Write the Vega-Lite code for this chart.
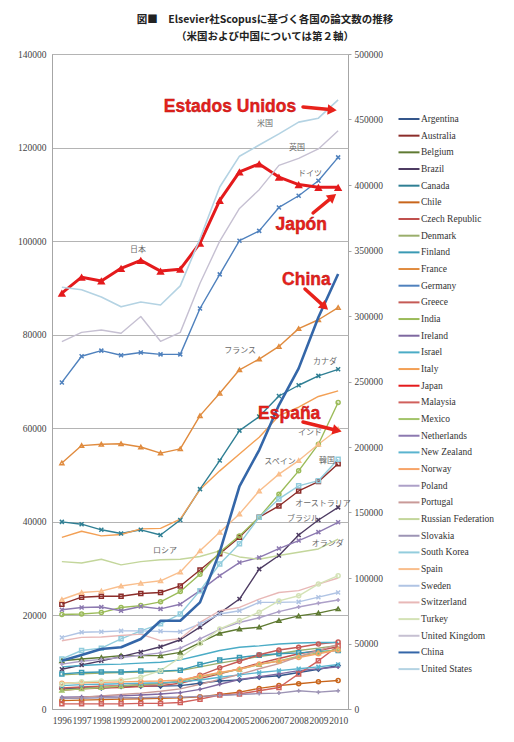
{
"$schema": "https://vega.github.io/schema/vega-lite/v6.json",
"width": 296,
"height": 655,
"autosize": {"type": "pad"},
"padding": {"left": 12, "top": 14, "right": 4, "bottom": 4},
"background": "white",
"title": {"text": ["図■　Elsevier社Scopusに基づく各国の論文数の推移", "（米国および中国については第２軸）"], "font": "Noto Sans CJK JP", "fontSize": 10.5, "fontWeight": "bold", "color": "#222222", "anchor": "middle", "dx": 65, "offset": 7, "lineHeight": 17},
"config": {
  "view": {"stroke": "#a6a6a6", "strokeWidth": 1},
  "axis": {"labelFont": "Liberation Serif", "labelFontSize": 9.5, "labelColor": "#444444", "domainColor": "#a6a6a6", "tickColor": "#a6a6a6", "gridColor": "#b4b4b4", "tickSize": 3},
  "legend": {"symbolLimit": 40},
  "range": {"category": ["#34568B","#8C2D2A","#5F7A32","#4D3B62","#2F7F94","#C8651B","#C0504D","#9AAE6B","#3A9AB4","#E08B3E","#4F81BD","#C55A55","#9BBB59","#7E68A0","#4BACC6","#F3A055","#E41A1C","#D0605C","#A3C46A","#8C79B0","#5AB4CF","#F7A468","#ADA0C8","#C99A98","#C3D69B","#9D94B5","#93CDDD","#F9BE8C","#B0C4E4","#E8B8B7","#D4E2B6","#C6C0D2","#3466A8","#B4D3E3"]}
},
"datasets": {
"papers": [
{"c":"Argentina","t":1996,"v":4300},{"c":"Argentina","t":1997,"v":4500},{"c":"Argentina","t":1998,"v":4500},{"c":"Argentina","t":1999,"v":4800},{"c":"Argentina","t":2000,"v":4900},{"c":"Argentina","t":2001,"v":4900},{"c":"Argentina","t":2002,"v":5000},{"c":"Argentina","t":2003,"v":5500},{"c":"Argentina","t":2004,"v":6000},{"c":"Argentina","t":2005,"v":6200},{"c":"Argentina","t":2006,"v":6800},{"c":"Argentina","t":2007,"v":7100},{"c":"Argentina","t":2008,"v":7800},{"c":"Argentina","t":2009,"v":8500},{"c":"Argentina","t":2010,"v":9300},
{"c":"Australia","t":1996,"v":22400},{"c":"Australia","t":1997,"v":23900},{"c":"Australia","t":1998,"v":24100},{"c":"Australia","t":1999,"v":24100},{"c":"Australia","t":2000,"v":24700},{"c":"Australia","t":2001,"v":24900},{"c":"Australia","t":2002,"v":26300},{"c":"Australia","t":2003,"v":29700},{"c":"Australia","t":2004,"v":33200},{"c":"Australia","t":2005,"v":36700},{"c":"Australia","t":2006,"v":41000},{"c":"Australia","t":2007,"v":43400},{"c":"Australia","t":2008,"v":46600},{"c":"Australia","t":2009,"v":48600},{"c":"Australia","t":2010,"v":52400},
{"c":"Belgium","t":1996,"v":10300},{"c":"Belgium","t":1997,"v":10700},{"c":"Belgium","t":1998,"v":11000},{"c":"Belgium","t":1999,"v":11400},{"c":"Belgium","t":2000,"v":11400},{"c":"Belgium","t":2001,"v":11400},{"c":"Belgium","t":2002,"v":12100},{"c":"Belgium","t":2003,"v":14200},{"c":"Belgium","t":2004,"v":16200},{"c":"Belgium","t":2005,"v":17100},{"c":"Belgium","t":2006,"v":17500},{"c":"Belgium","t":2007,"v":18900},{"c":"Belgium","t":2008,"v":19900},{"c":"Belgium","t":2009,"v":20500},{"c":"Belgium","t":2010,"v":21400},
{"c":"Brazil","t":1996,"v":8500},{"c":"Brazil","t":1997,"v":9400},{"c":"Brazil","t":1998,"v":10300},{"c":"Brazil","t":1999,"v":11200},{"c":"Brazil","t":2000,"v":12200},{"c":"Brazil","t":2001,"v":13300},{"c":"Brazil","t":2002,"v":14800},{"c":"Brazil","t":2003,"v":17500},{"c":"Brazil","t":2004,"v":20500},{"c":"Brazil","t":2005,"v":23500},{"c":"Brazil","t":2006,"v":29900},{"c":"Brazil","t":2007,"v":32800},{"c":"Brazil","t":2008,"v":37200},{"c":"Brazil","t":2009,"v":40400},{"c":"Brazil","t":2010,"v":43100},
{"c":"Canada","t":1996,"v":40000},{"c":"Canada","t":1997,"v":39500},{"c":"Canada","t":1998,"v":38300},{"c":"Canada","t":1999,"v":37500},{"c":"Canada","t":2000,"v":38300},{"c":"Canada","t":2001,"v":37200},{"c":"Canada","t":2002,"v":40400},{"c":"Canada","t":2003,"v":47000},{"c":"Canada","t":2004,"v":53100},{"c":"Canada","t":2005,"v":59500},{"c":"Canada","t":2006,"v":62500},{"c":"Canada","t":2007,"v":66900},{"c":"Canada","t":2008,"v":69200},{"c":"Canada","t":2009,"v":71200},{"c":"Canada","t":2010,"v":72600},
{"c":"Chile","t":1996,"v":1800},{"c":"Chile","t":1997,"v":1900},{"c":"Chile","t":1998,"v":2000},{"c":"Chile","t":1999,"v":2100},{"c":"Chile","t":2000,"v":2200},{"c":"Chile","t":2001,"v":2300},{"c":"Chile","t":2002,"v":2400},{"c":"Chile","t":2003,"v":2600},{"c":"Chile","t":2004,"v":3100},{"c":"Chile","t":2005,"v":3600},{"c":"Chile","t":2006,"v":4400},{"c":"Chile","t":2007,"v":5000},{"c":"Chile","t":2008,"v":5400},{"c":"Chile","t":2009,"v":5800},{"c":"Chile","t":2010,"v":6100},
{"c":"Czech Republic","t":1996,"v":4000},{"c":"Czech Republic","t":1997,"v":4300},{"c":"Czech Republic","t":1998,"v":4500},{"c":"Czech Republic","t":1999,"v":4600},{"c":"Czech Republic","t":2000,"v":4800},{"c":"Czech Republic","t":2001,"v":5000},{"c":"Czech Republic","t":2002,"v":5500},{"c":"Czech Republic","t":2003,"v":6500},{"c":"Czech Republic","t":2004,"v":7500},{"c":"Czech Republic","t":2005,"v":8600},{"c":"Czech Republic","t":2006,"v":9800},{"c":"Czech Republic","t":2007,"v":10800},{"c":"Czech Republic","t":2008,"v":11800},{"c":"Czech Republic","t":2009,"v":12500},{"c":"Czech Republic","t":2010,"v":13300},
{"c":"Denmark","t":1996,"v":7300},{"c":"Denmark","t":1997,"v":7500},{"c":"Denmark","t":1998,"v":7700},{"c":"Denmark","t":1999,"v":7800},{"c":"Denmark","t":2000,"v":7900},{"c":"Denmark","t":2001,"v":8000},{"c":"Denmark","t":2002,"v":8200},{"c":"Denmark","t":2003,"v":9000},{"c":"Denmark","t":2004,"v":9800},{"c":"Denmark","t":2005,"v":10500},{"c":"Denmark","t":2006,"v":11200},{"c":"Denmark","t":2007,"v":11800},{"c":"Denmark","t":2008,"v":12500},{"c":"Denmark","t":2009,"v":13000},{"c":"Denmark","t":2010,"v":13600},
{"c":"Finland","t":1996,"v":7500},{"c":"Finland","t":1997,"v":7800},{"c":"Finland","t":1998,"v":7900},{"c":"Finland","t":1999,"v":7900},{"c":"Finland","t":2000,"v":8100},{"c":"Finland","t":2001,"v":8100},{"c":"Finland","t":2002,"v":8300},{"c":"Finland","t":2003,"v":9500},{"c":"Finland","t":2004,"v":10500},{"c":"Finland","t":2005,"v":11000},{"c":"Finland","t":2006,"v":11500},{"c":"Finland","t":2007,"v":11800},{"c":"Finland","t":2008,"v":12000},{"c":"Finland","t":2009,"v":12300},{"c":"Finland","t":2010,"v":12500},
{"c":"France","t":1996,"v":52600},{"c":"France","t":1997,"v":56300},{"c":"France","t":1998,"v":56600},{"c":"France","t":1999,"v":56700},{"c":"France","t":2000,"v":56000},{"c":"France","t":2001,"v":54700},{"c":"France","t":2002,"v":55600},{"c":"France","t":2003,"v":62700},{"c":"France","t":2004,"v":67500},{"c":"France","t":2005,"v":72500},{"c":"France","t":2006,"v":74800},{"c":"France","t":2007,"v":77500},{"c":"France","t":2008,"v":81300},{"c":"France","t":2009,"v":83200},{"c":"France","t":2010,"v":85800},
{"c":"Germany","t":1996,"v":69800},{"c":"Germany","t":1997,"v":75400},{"c":"Germany","t":1998,"v":76600},{"c":"Germany","t":1999,"v":75600},{"c":"Germany","t":2000,"v":76200},{"c":"Germany","t":2001,"v":75800},{"c":"Germany","t":2002,"v":75800},{"c":"Germany","t":2003,"v":85600},{"c":"Germany","t":2004,"v":92900},{"c":"Germany","t":2005,"v":100100},{"c":"Germany","t":2006,"v":102200},{"c":"Germany","t":2007,"v":107200},{"c":"Germany","t":2008,"v":109700},{"c":"Germany","t":2009,"v":112900},{"c":"Germany","t":2010,"v":117900},
{"c":"Greece","t":1996,"v":4500},{"c":"Greece","t":1997,"v":4700},{"c":"Greece","t":1998,"v":4900},{"c":"Greece","t":1999,"v":5000},{"c":"Greece","t":2000,"v":5200},{"c":"Greece","t":2001,"v":5400},{"c":"Greece","t":2002,"v":5900},{"c":"Greece","t":2003,"v":7200},{"c":"Greece","t":2004,"v":8800},{"c":"Greece","t":2005,"v":10200},{"c":"Greece","t":2006,"v":11600},{"c":"Greece","t":2007,"v":12600},{"c":"Greece","t":2008,"v":13200},{"c":"Greece","t":2009,"v":13900},{"c":"Greece","t":2010,"v":14300},
{"c":"India","t":1996,"v":20200},{"c":"India","t":1997,"v":20300},{"c":"India","t":1998,"v":20600},{"c":"India","t":1999,"v":21700},{"c":"India","t":2000,"v":22100},{"c":"India","t":2001,"v":22900},{"c":"India","t":2002,"v":25100},{"c":"India","t":2003,"v":28800},{"c":"India","t":2004,"v":33500},{"c":"India","t":2005,"v":37000},{"c":"India","t":2006,"v":41000},{"c":"India","t":2007,"v":45900},{"c":"India","t":2008,"v":50900},{"c":"India","t":2009,"v":56600},{"c":"India","t":2010,"v":65500},
{"c":"Ireland","t":1996,"v":2500},{"c":"Ireland","t":1997,"v":2600},{"c":"Ireland","t":1998,"v":2700},{"c":"Ireland","t":1999,"v":2800},{"c":"Ireland","t":2000,"v":3000},{"c":"Ireland","t":2001,"v":3200},{"c":"Ireland","t":2002,"v":3500},{"c":"Ireland","t":2003,"v":4200},{"c":"Ireland","t":2004,"v":5300},{"c":"Ireland","t":2005,"v":6300},{"c":"Ireland","t":2006,"v":6900},{"c":"Ireland","t":2007,"v":7500},{"c":"Ireland","t":2008,"v":8200},{"c":"Ireland","t":2009,"v":8600},{"c":"Ireland","t":2010,"v":9000},
{"c":"Israel","t":1996,"v":9000},{"c":"Israel","t":1997,"v":9300},{"c":"Israel","t":1998,"v":9500},{"c":"Israel","t":1999,"v":9600},{"c":"Israel","t":2000,"v":9800},{"c":"Israel","t":2001,"v":10000},{"c":"Israel","t":2002,"v":10500},{"c":"Israel","t":2003,"v":11500},{"c":"Israel","t":2004,"v":12500},{"c":"Israel","t":2005,"v":13200},{"c":"Israel","t":2006,"v":13500},{"c":"Israel","t":2007,"v":13900},{"c":"Israel","t":2008,"v":14100},{"c":"Israel","t":2009,"v":14200},{"c":"Israel","t":2010,"v":14200},
{"c":"Italy","t":1996,"v":36700},{"c":"Italy","t":1997,"v":38000},{"c":"Italy","t":1998,"v":37000},{"c":"Italy","t":1999,"v":37300},{"c":"Italy","t":2000,"v":38500},{"c":"Italy","t":2001,"v":38600},{"c":"Italy","t":2002,"v":40600},{"c":"Italy","t":2003,"v":46900},{"c":"Italy","t":2004,"v":50900},{"c":"Italy","t":2005,"v":54500},{"c":"Italy","t":2006,"v":58100},{"c":"Italy","t":2007,"v":62700},{"c":"Italy","t":2008,"v":64500},{"c":"Italy","t":2009,"v":66800},{"c":"Italy","t":2010,"v":68000},
{"c":"Japan","t":1996,"v":88900},{"c":"Japan","t":1997,"v":92300},{"c":"Japan","t":1998,"v":91500},{"c":"Japan","t":1999,"v":94200},{"c":"Japan","t":2000,"v":95900},{"c":"Japan","t":2001,"v":93600},{"c":"Japan","t":2002,"v":94000},{"c":"Japan","t":2003,"v":99600},{"c":"Japan","t":2004,"v":108700},{"c":"Japan","t":2005,"v":114800},{"c":"Japan","t":2006,"v":116500},{"c":"Japan","t":2007,"v":113700},{"c":"Japan","t":2008,"v":112100},{"c":"Japan","t":2009,"v":111500},{"c":"Japan","t":2010,"v":111500},
{"c":"Malaysia","t":1996,"v":1100},{"c":"Malaysia","t":1997,"v":1100},{"c":"Malaysia","t":1998,"v":1100},{"c":"Malaysia","t":1999,"v":1100},{"c":"Malaysia","t":2000,"v":1200},{"c":"Malaysia","t":2001,"v":1200},{"c":"Malaysia","t":2002,"v":1400},{"c":"Malaysia","t":2003,"v":2100},{"c":"Malaysia","t":2004,"v":3000},{"c":"Malaysia","t":2005,"v":3200},{"c":"Malaysia","t":2006,"v":3900},{"c":"Malaysia","t":2007,"v":4600},{"c":"Malaysia","t":2008,"v":7500},{"c":"Malaysia","t":2009,"v":10300},{"c":"Malaysia","t":2010,"v":13500},
{"c":"Mexico","t":1996,"v":4000},{"c":"Mexico","t":1997,"v":4300},{"c":"Mexico","t":1998,"v":4600},{"c":"Mexico","t":1999,"v":4900},{"c":"Mexico","t":2000,"v":5200},{"c":"Mexico","t":2001,"v":5500},{"c":"Mexico","t":2002,"v":5900},{"c":"Mexico","t":2003,"v":6900},{"c":"Mexico","t":2004,"v":7700},{"c":"Mexico","t":2005,"v":8500},{"c":"Mexico","t":2006,"v":9500},{"c":"Mexico","t":2007,"v":10300},{"c":"Mexico","t":2008,"v":11300},{"c":"Mexico","t":2009,"v":12000},{"c":"Mexico","t":2010,"v":12800},
{"c":"Netherlands","t":1996,"v":21200},{"c":"Netherlands","t":1997,"v":21700},{"c":"Netherlands","t":1998,"v":21800},{"c":"Netherlands","t":1999,"v":21000},{"c":"Netherlands","t":2000,"v":21900},{"c":"Netherlands","t":2001,"v":21400},{"c":"Netherlands","t":2002,"v":22400},{"c":"Netherlands","t":2003,"v":25300},{"c":"Netherlands","t":2004,"v":28500},{"c":"Netherlands","t":2005,"v":31300},{"c":"Netherlands","t":2006,"v":32400},{"c":"Netherlands","t":2007,"v":34300},{"c":"Netherlands","t":2008,"v":36000},{"c":"Netherlands","t":2009,"v":37800},{"c":"Netherlands","t":2010,"v":39900},
{"c":"New Zealand","t":1996,"v":5000},{"c":"New Zealand","t":1997,"v":5200},{"c":"New Zealand","t":1998,"v":5300},{"c":"New Zealand","t":1999,"v":5400},{"c":"New Zealand","t":2000,"v":5500},{"c":"New Zealand","t":2001,"v":5600},{"c":"New Zealand","t":2002,"v":5800},{"c":"New Zealand","t":2003,"v":6200},{"c":"New Zealand","t":2004,"v":6800},{"c":"New Zealand","t":2005,"v":7300},{"c":"New Zealand","t":2006,"v":7800},{"c":"New Zealand","t":2007,"v":8200},{"c":"New Zealand","t":2008,"v":8600},{"c":"New Zealand","t":2009,"v":9000},{"c":"New Zealand","t":2010,"v":9500},
{"c":"Norway","t":1996,"v":5500},{"c":"Norway","t":1997,"v":5600},{"c":"Norway","t":1998,"v":5700},{"c":"Norway","t":1999,"v":5800},{"c":"Norway","t":2000,"v":5900},{"c":"Norway","t":2001,"v":6000},{"c":"Norway","t":2002,"v":6200},{"c":"Norway","t":2003,"v":7000},{"c":"Norway","t":2004,"v":7800},{"c":"Norway","t":2005,"v":8500},{"c":"Norway","t":2006,"v":9600},{"c":"Norway","t":2007,"v":10200},{"c":"Norway","t":2008,"v":11000},{"c":"Norway","t":2009,"v":11800},{"c":"Norway","t":2010,"v":12600},
{"c":"Poland","t":1996,"v":9600},{"c":"Poland","t":1997,"v":10200},{"c":"Poland","t":1998,"v":10600},{"c":"Poland","t":1999,"v":11000},{"c":"Poland","t":2000,"v":11500},{"c":"Poland","t":2001,"v":12000},{"c":"Poland","t":2002,"v":13000},{"c":"Poland","t":2003,"v":15000},{"c":"Poland","t":2004,"v":17000},{"c":"Poland","t":2005,"v":18500},{"c":"Poland","t":2006,"v":19500},{"c":"Poland","t":2007,"v":20800},{"c":"Poland","t":2008,"v":21800},{"c":"Poland","t":2009,"v":22600},{"c":"Poland","t":2010,"v":23300},
{"c":"Portugal","t":1996,"v":2200},{"c":"Portugal","t":1997,"v":2500},{"c":"Portugal","t":1998,"v":2800},{"c":"Portugal","t":1999,"v":3100},{"c":"Portugal","t":2000,"v":3400},{"c":"Portugal","t":2001,"v":3800},{"c":"Portugal","t":2002,"v":4300},{"c":"Portugal","t":2003,"v":5300},{"c":"Portugal","t":2004,"v":6300},{"c":"Portugal","t":2005,"v":7400},{"c":"Portugal","t":2006,"v":8600},{"c":"Portugal","t":2007,"v":9700},{"c":"Portugal","t":2008,"v":11200},{"c":"Portugal","t":2009,"v":12500},{"c":"Portugal","t":2010,"v":13800},
{"c":"Russian Federation","t":1996,"v":31500},{"c":"Russian Federation","t":1997,"v":31200},{"c":"Russian Federation","t":1998,"v":32000},{"c":"Russian Federation","t":1999,"v":30800},{"c":"Russian Federation","t":2000,"v":31500},{"c":"Russian Federation","t":2001,"v":31900},{"c":"Russian Federation","t":2002,"v":32000},{"c":"Russian Federation","t":2003,"v":32600},{"c":"Russian Federation","t":2004,"v":33800},{"c":"Russian Federation","t":2005,"v":32500},{"c":"Russian Federation","t":2006,"v":32000},{"c":"Russian Federation","t":2007,"v":32800},{"c":"Russian Federation","t":2008,"v":33500},{"c":"Russian Federation","t":2009,"v":34200},{"c":"Russian Federation","t":2010,"v":36300},
{"c":"Slovakia","t":1996,"v":2300},{"c":"Slovakia","t":1997,"v":2300},{"c":"Slovakia","t":1998,"v":2400},{"c":"Slovakia","t":1999,"v":2400},{"c":"Slovakia","t":2000,"v":2400},{"c":"Slovakia","t":2001,"v":2500},{"c":"Slovakia","t":2002,"v":2500},{"c":"Slovakia","t":2003,"v":2700},{"c":"Slovakia","t":2004,"v":2900},{"c":"Slovakia","t":2005,"v":3100},{"c":"Slovakia","t":2006,"v":3300},{"c":"Slovakia","t":2007,"v":3400},{"c":"Slovakia","t":2008,"v":3900},{"c":"Slovakia","t":2009,"v":3600},{"c":"Slovakia","t":2010,"v":3900},
{"c":"South Korea","t":1996,"v":10700},{"c":"South Korea","t":1997,"v":12500},{"c":"South Korea","t":1998,"v":13000},{"c":"South Korea","t":1999,"v":15000},{"c":"South Korea","t":2000,"v":16700},{"c":"South Korea","t":2001,"v":18200},{"c":"South Korea","t":2002,"v":20300},{"c":"South Korea","t":2003,"v":25300},{"c":"South Korea","t":2004,"v":31000},{"c":"South Korea","t":2005,"v":35300},{"c":"South Korea","t":2006,"v":41000},{"c":"South Korea","t":2007,"v":44900},{"c":"South Korea","t":2008,"v":47700},{"c":"South Korea","t":2009,"v":48800},{"c":"South Korea","t":2010,"v":53400},
{"c":"Spain","t":1996,"v":23400},{"c":"Spain","t":1997,"v":24900},{"c":"Spain","t":1998,"v":25200},{"c":"Spain","t":1999,"v":26300},{"c":"Spain","t":2000,"v":26900},{"c":"Spain","t":2001,"v":27400},{"c":"Spain","t":2002,"v":29300},{"c":"Spain","t":2003,"v":33800},{"c":"Spain","t":2004,"v":37800},{"c":"Spain","t":2005,"v":41700},{"c":"Spain","t":2006,"v":46600},{"c":"Spain","t":2007,"v":50200},{"c":"Spain","t":2008,"v":53100},{"c":"Spain","t":2009,"v":56600},{"c":"Spain","t":2010,"v":59800},
{"c":"Sweden","t":1996,"v":15300},{"c":"Sweden","t":1997,"v":16400},{"c":"Sweden","t":1998,"v":16500},{"c":"Sweden","t":1999,"v":16700},{"c":"Sweden","t":2000,"v":16700},{"c":"Sweden","t":2001,"v":16600},{"c":"Sweden","t":2002,"v":16500},{"c":"Sweden","t":2003,"v":18200},{"c":"Sweden","t":2004,"v":20300},{"c":"Sweden","t":2005,"v":21000},{"c":"Sweden","t":2006,"v":22800},{"c":"Sweden","t":2007,"v":22800},{"c":"Sweden","t":2008,"v":22900},{"c":"Sweden","t":2009,"v":23900},{"c":"Sweden","t":2010,"v":24900},
{"c":"Switzerland","t":1996,"v":14600},{"c":"Switzerland","t":1997,"v":15300},{"c":"Switzerland","t":1998,"v":15400},{"c":"Switzerland","t":1999,"v":15700},{"c":"Switzerland","t":2000,"v":16000},{"c":"Switzerland","t":2001,"v":14600},{"c":"Switzerland","t":2002,"v":15000},{"c":"Switzerland","t":2003,"v":18500},{"c":"Switzerland","t":2004,"v":21000},{"c":"Switzerland","t":2005,"v":21700},{"c":"Switzerland","t":2006,"v":23500},{"c":"Switzerland","t":2007,"v":24900},{"c":"Switzerland","t":2008,"v":25300},{"c":"Switzerland","t":2009,"v":26700},{"c":"Switzerland","t":2010,"v":28000},
{"c":"Turkey","t":1996,"v":5300},{"c":"Turkey","t":1997,"v":5800},{"c":"Turkey","t":1998,"v":6000},{"c":"Turkey","t":1999,"v":6200},{"c":"Turkey","t":2000,"v":6800},{"c":"Turkey","t":2001,"v":8200},{"c":"Turkey","t":2002,"v":11000},{"c":"Turkey","t":2003,"v":14000},{"c":"Turkey","t":2004,"v":17100},{"c":"Turkey","t":2005,"v":18900},{"c":"Turkey","t":2006,"v":20700},{"c":"Turkey","t":2007,"v":23100},{"c":"Turkey","t":2008,"v":24200},{"c":"Turkey","t":2009,"v":26700},{"c":"Turkey","t":2010,"v":28500},
{"c":"United Kingdom","t":1996,"v":78500},{"c":"United Kingdom","t":1997,"v":80500},{"c":"United Kingdom","t":1998,"v":81000},{"c":"United Kingdom","t":1999,"v":80300},{"c":"United Kingdom","t":2000,"v":83900},{"c":"United Kingdom","t":2001,"v":78600},{"c":"United Kingdom","t":2002,"v":80500},{"c":"United Kingdom","t":2003,"v":91000},{"c":"United Kingdom","t":2004,"v":100000},{"c":"United Kingdom","t":2005,"v":107000},{"c":"United Kingdom","t":2006,"v":111000},{"c":"United Kingdom","t":2007,"v":116200},{"c":"United Kingdom","t":2008,"v":117700},{"c":"United Kingdom","t":2009,"v":119700},{"c":"United Kingdom","t":2010,"v":123600},
{"c":"China","t":1996,"v":36900},{"c":"China","t":1997,"v":41200},{"c":"China","t":1998,"v":45800},{"c":"China","t":1999,"v":47100},{"c":"China","t":2000,"v":53400},{"c":"China","t":2001,"v":67400},{"c":"China","t":2002,"v":67400},{"c":"China","t":2003,"v":81400},{"c":"China","t":2004,"v":119800},{"c":"China","t":2005,"v":170000},{"c":"China","t":2006,"v":197700},{"c":"China","t":2007,"v":232000},{"c":"China","t":2008,"v":260000},{"c":"China","t":2009,"v":299000},{"c":"China","t":2010,"v":332000},
{"c":"United States","t":1996,"v":322000},{"c":"United States","t":1997,"v":320000},{"c":"United States","t":1998,"v":314500},{"c":"United States","t":1999,"v":307000},{"c":"United States","t":2000,"v":310700},{"c":"United States","t":2001,"v":308400},{"c":"United States","t":2002,"v":323000},{"c":"United States","t":2003,"v":359000},{"c":"United States","t":2004,"v":398500},{"c":"United States","t":2005,"v":422000},{"c":"United States","t":2006,"v":430500},{"c":"United States","t":2007,"v":439000},{"c":"United States","t":2008,"v":448000},{"c":"United States","t":2009,"v":451000},{"c":"United States","t":2010,"v":465000}
],
"jp": [
{"j":"米国","t":2006.29,"v":446500},{"j":"英国","t":2007.91,"v":428245},{"j":"ドイツ","t":2008.57,"v":408397},{"j":"日本","t":1999.86,"v":350382},{"j":"フランス","t":2005.03,"v":273282},{"j":"カナダ","t":2009.34,"v":264886},{"j":"インド","t":2008.57,"v":210687},{"j":"スペイン","t":2007.05,"v":188550},{"j":"韓国","t":2009.43,"v":189313},{"j":"オーストラリア","t":2009.23,"v":156489},{"j":"ブラジル","t":2008.22,"v":145038},{"j":"オランダ","t":2009.48,"v":125954},{"j":"ロシア","t":2001.23,"v":120611}
],
"notes": [
{"n":"Estados Unidos","t":2004.52,"v":459500},{"n":"Japón","t":2008.13,"v":369466},{"n":"China","t":2008.39,"v":327481},{"n":"España","t":2007.52,"v":225191}
],
"arrows": [
{"a":"US","t":2008.22,"v":459542,"t2":2009.7,"v2":457400},{"a":"JP","t":2008.73,"v":378626,"t2":2009.72,"v2":391000},{"a":"CN","t":2008.32,"v":320611,"t2":2009.32,"v2":307000},{"a":"ES","t":2008.22,"v":219084,"t2":2009.95,"v2":212600}
]
},
"layer": [
{
"layer": [
{
"data": {"name": "papers"},
"transform": [{"filter": {"not": {"field": "c", "oneOf": ["China", "United States"]}}}],
"mark": {"type": "line", "strokeJoin": "round"},
"encoding": {
"x": {"field": "t", "type": "quantitative", "scale": {"domain": [1995.5, 2010.5], "nice": false, "zero": false}, "axis": {"title": null, "values": [1996,1997,1998,1999,2000,2001,2002,2003,2004,2005,2006,2007,2008,2009,2010], "format": "d", "ticks": false, "grid": false, "labelOverlap": false, "labelFlush": false, "labelPadding": 6}},
"y": {"field": "v", "type": "quantitative", "scale": {"domain": [0, 140000], "nice": false}, "axis": {"title": null, "orient": "left", "values": [0,20000,40000,60000,80000,100000,120000,140000], "format": "d", "grid": true, "ticks": false, "labelPadding": 6, "minExtent": 40, "maxExtent": 40}},
"color": {"field": "c", "type": "nominal", "scale": {"domain": ["Argentina","Australia","Belgium","Brazil","Canada","Chile","Czech Republic","Denmark","Finland","France","Germany","Greece","India","Ireland","Israel","Italy","Japan","Malaysia","Mexico","Netherlands","New Zealand","Norway","Poland","Portugal","Russian Federation","Slovakia","South Korea","Spain","Sweden","Switzerland","Turkey","United Kingdom","China","United States"]}, "legend": {"title": null, "orient": "none", "legendX": 349, "legendY": 57, "symbolType": "M-1.5,0H1.5", "symbolSize": 196, "symbolStrokeWidth": 2, "symbolLimit": 40, "labelFont": "Liberation Serif", "labelFontSize": 9.5, "labelColor": "#333333", "rowPadding": 3.67, "labelOffset": 4, "padding": 0}},
"strokeWidth": {"condition": {"test": "datum.c === 'Japan'", "value": 3}, "value": 1.4}
}
},
{
"data": {"name": "papers"},
"transform": [{"filter": {"field": "c", "oneOf": ["Argentina","Australia","Belgium","Brazil","Canada","Chile","Finland","France","Germany","Greece","India","Ireland","Malaysia","Mexico","Netherlands","New Zealand","Norway","Poland","Slovakia","South Korea","Spain","Sweden","Turkey"]}}],
"mark": {"type": "point", "filled": false, "strokeWidth": 1.5, "size": 16, "opacity": 1},
"encoding": {
"x": {"field": "t", "type": "quantitative", "scale": {"domain": [1995.5, 2010.5], "nice": false, "zero": false}, "axis": {"title": null, "values": [1996,1997,1998,1999,2000,2001,2002,2003,2004,2005,2006,2007,2008,2009,2010], "format": "d", "ticks": false, "grid": false, "labelOverlap": false, "labelFlush": false, "labelPadding": 6}},
"y": {"field": "v", "type": "quantitative", "scale": {"domain": [0, 140000], "nice": false}, "axis": {"title": null, "orient": "left", "values": [0,20000,40000,60000,80000,100000,120000,140000], "format": "d", "grid": true, "ticks": false, "labelPadding": 6, "minExtent": 40, "maxExtent": 40}},
"color": {"field": "c", "type": "nominal", "scale": {"domain": ["Argentina","Australia","Belgium","Brazil","Canada","Chile","Czech Republic","Denmark","Finland","France","Germany","Greece","India","Ireland","Israel","Italy","Japan","Malaysia","Mexico","Netherlands","New Zealand","Norway","Poland","Portugal","Russian Federation","Slovakia","South Korea","Spain","Sweden","Switzerland","Turkey","United Kingdom","China","United States"]}, "legend": null},
"shape": {"field": "c", "type": "nominal", "legend": null, "scale": {"domain": ["Argentina","Australia","Belgium","Brazil","Canada","Chile","Finland","France","Germany","Greece","India","Ireland","Malaysia","Mexico","Netherlands","New Zealand","Norway","Poland","Slovakia","South Korea","Spain","Sweden","Turkey"], "range": ["diamond","square","triangle-up","M-1,-1L1,1M-1,1L1,-1","M-1,-1L1,1M-1,1L1,-1","circle","square","triangle-up","M-1,-1L1,1M-1,1L1,-1","circle","circle","M-1,0L1,0M0,-1L0,1","square","triangle-up","M-1,-1L1,1M-1,1L1,-1","M-1,-1L1,1M-1,1L1,-1","circle","M-1,0L1,0M0,-1L0,1","M-1,0L1,0M0,-1L0,1","square","triangle-up","M-1,-1L1,1M-1,1L1,-1","circle"]}}
}
},
{
"data": {"name": "papers"},
"transform": [{"filter": {"field": "c", "equal": "Japan"}}],
"mark": {"type": "point", "filled": true, "shape": "triangle-up", "size": 70, "opacity": 1},
"encoding": {
"x": {"field": "t", "type": "quantitative", "scale": {"domain": [1995.5, 2010.5], "nice": false, "zero": false}, "axis": {"title": null, "values": [1996,1997,1998,1999,2000,2001,2002,2003,2004,2005,2006,2007,2008,2009,2010], "format": "d", "ticks": false, "grid": false, "labelOverlap": false, "labelFlush": false, "labelPadding": 6}},
"y": {"field": "v", "type": "quantitative", "scale": {"domain": [0, 140000], "nice": false}, "axis": {"title": null, "orient": "left", "values": [0,20000,40000,60000,80000,100000,120000,140000], "format": "d", "grid": true, "ticks": false, "labelPadding": 6, "minExtent": 40, "maxExtent": 40}},
"color": {"field": "c", "type": "nominal", "scale": {"domain": ["Argentina","Australia","Belgium","Brazil","Canada","Chile","Czech Republic","Denmark","Finland","France","Germany","Greece","India","Ireland","Israel","Italy","Japan","Malaysia","Mexico","Netherlands","New Zealand","Norway","Poland","Portugal","Russian Federation","Slovakia","South Korea","Spain","Sweden","Switzerland","Turkey","United Kingdom","China","United States"]}, "legend": null}
}
}
]
},
{
"layer": [
{
"data": {"name": "papers"},
"transform": [{"filter": {"field": "c", "oneOf": ["China", "United States"]}}],
"mark": {"type": "line", "strokeJoin": "round"},
"encoding": {
"x": {"field": "t", "type": "quantitative", "scale": {"domain": [1995.5, 2010.5], "nice": false, "zero": false}, "axis": {"title": null, "values": [1996,1997,1998,1999,2000,2001,2002,2003,2004,2005,2006,2007,2008,2009,2010], "format": "d", "ticks": false, "grid": false, "labelOverlap": false, "labelFlush": false, "labelPadding": 6}},
"y": {"field": "v", "type": "quantitative", "scale": {"domain": [0, 500000], "nice": false}, "axis": {"title": null, "orient": "right", "values": [0,50000,100000,150000,200000,250000,300000,350000,400000,450000,500000], "format": "d", "grid": false, "ticks": true, "labelPadding": 3, "domain": false}},
"color": {"field": "c", "type": "nominal", "scale": {"domain": ["Argentina","Australia","Belgium","Brazil","Canada","Chile","Czech Republic","Denmark","Finland","France","Germany","Greece","India","Ireland","Israel","Italy","Japan","Malaysia","Mexico","Netherlands","New Zealand","Norway","Poland","Portugal","Russian Federation","Slovakia","South Korea","Spain","Sweden","Switzerland","Turkey","United Kingdom","China","United States"]}, "legend": null},
"strokeWidth": {"condition": {"test": "datum.c === 'China'", "value": 2.6}, "value": 1.6}
}
},
{
"data": {"name": "jp"},
"mark": {"type": "text", "font": "Noto Sans CJK JP", "fontSize": 8, "color": "#6a6a6a"},
"encoding": {
"x": {"field": "t", "type": "quantitative", "scale": {"domain": [1995.5, 2010.5], "nice": false, "zero": false}, "axis": {"title": null, "values": [1996,1997,1998,1999,2000,2001,2002,2003,2004,2005,2006,2007,2008,2009,2010], "format": "d", "ticks": false, "grid": false, "labelOverlap": false, "labelFlush": false, "labelPadding": 6}},
"y": {"field": "v", "type": "quantitative", "scale": {"domain": [0, 500000], "nice": false}, "axis": {"title": null, "orient": "right", "values": [0,50000,100000,150000,200000,250000,300000,350000,400000,450000,500000], "format": "d", "grid": false, "ticks": true, "labelPadding": 3, "domain": false}},
"text": {"field": "j"}
}
},
{
"data": {"name": "arrows"},
"mark": {"type": "rule", "color": "#E8221B", "strokeWidth": 3.5, "strokeCap": "round"},
"encoding": {
"x": {"field": "t", "type": "quantitative", "scale": {"domain": [1995.5, 2010.5], "nice": false, "zero": false}, "axis": {"title": null, "values": [1996,1997,1998,1999,2000,2001,2002,2003,2004,2005,2006,2007,2008,2009,2010], "format": "d", "ticks": false, "grid": false, "labelOverlap": false, "labelFlush": false, "labelPadding": 6}},
"y": {"field": "v", "type": "quantitative", "scale": {"domain": [0, 500000], "nice": false}, "axis": {"title": null, "orient": "right", "values": [0,50000,100000,150000,200000,250000,300000,350000,400000,450000,500000], "format": "d", "grid": false, "ticks": true, "labelPadding": 3, "domain": false}},
"x2": {"field": "t2"},
"y2": {"field": "v2"}
}
},
{
"data": {"name": "arrows"},
"transform": [{"filter": {"field": "a", "equal": "US"}}],
"mark": {"type": "point", "shape": "triangle-up", "filled": true, "color": "#E8221B", "size": 110, "angle": 95, "opacity": 1},
"encoding": {
"x": {"field": "t2", "type": "quantitative", "scale": {"domain": [1995.5, 2010.5], "nice": false, "zero": false}, "axis": {"title": null, "values": [1996,1997,1998,1999,2000,2001,2002,2003,2004,2005,2006,2007,2008,2009,2010], "format": "d", "ticks": false, "grid": false, "labelOverlap": false, "labelFlush": false, "labelPadding": 6}},
"y": {"field": "v2", "type": "quantitative", "scale": {"domain": [0, 500000], "nice": false}, "axis": {"title": null, "orient": "right", "values": [0,50000,100000,150000,200000,250000,300000,350000,400000,450000,500000], "format": "d", "grid": false, "ticks": true, "labelPadding": 3, "domain": false}}
}
},
{
"data": {"name": "arrows"},
"transform": [{"filter": {"field": "a", "equal": "JP"}}],
"mark": {"type": "point", "shape": "triangle-up", "filled": true, "color": "#E8221B", "size": 110, "angle": 51, "opacity": 1},
"encoding": {
"x": {"field": "t2", "type": "quantitative", "scale": {"domain": [1995.5, 2010.5], "nice": false, "zero": false}, "axis": {"title": null, "values": [1996,1997,1998,1999,2000,2001,2002,2003,2004,2005,2006,2007,2008,2009,2010], "format": "d", "ticks": false, "grid": false, "labelOverlap": false, "labelFlush": false, "labelPadding": 6}},
"y": {"field": "v2", "type": "quantitative", "scale": {"domain": [0, 500000], "nice": false}, "axis": {"title": null, "orient": "right", "values": [0,50000,100000,150000,200000,250000,300000,350000,400000,450000,500000], "format": "d", "grid": false, "ticks": true, "labelPadding": 3, "domain": false}}
}
},
{
"data": {"name": "arrows"},
"transform": [{"filter": {"field": "a", "equal": "CN"}}],
"mark": {"type": "point", "shape": "triangle-up", "filled": true, "color": "#E8221B", "size": 110, "angle": 132, "opacity": 1},
"encoding": {
"x": {"field": "t2", "type": "quantitative", "scale": {"domain": [1995.5, 2010.5], "nice": false, "zero": false}, "axis": {"title": null, "values": [1996,1997,1998,1999,2000,2001,2002,2003,2004,2005,2006,2007,2008,2009,2010], "format": "d", "ticks": false, "grid": false, "labelOverlap": false, "labelFlush": false, "labelPadding": 6}},
"y": {"field": "v2", "type": "quantitative", "scale": {"domain": [0, 500000], "nice": false}, "axis": {"title": null, "orient": "right", "values": [0,50000,100000,150000,200000,250000,300000,350000,400000,450000,500000], "format": "d", "grid": false, "ticks": true, "labelPadding": 3, "domain": false}}
}
},
{
"data": {"name": "arrows"},
"transform": [{"filter": {"field": "a", "equal": "ES"}}],
"mark": {"type": "point", "shape": "triangle-up", "filled": true, "color": "#E8221B", "size": 110, "angle": 104, "opacity": 1},
"encoding": {
"x": {"field": "t2", "type": "quantitative", "scale": {"domain": [1995.5, 2010.5], "nice": false, "zero": false}, "axis": {"title": null, "values": [1996,1997,1998,1999,2000,2001,2002,2003,2004,2005,2006,2007,2008,2009,2010], "format": "d", "ticks": false, "grid": false, "labelOverlap": false, "labelFlush": false, "labelPadding": 6}},
"y": {"field": "v2", "type": "quantitative", "scale": {"domain": [0, 500000], "nice": false}, "axis": {"title": null, "orient": "right", "values": [0,50000,100000,150000,200000,250000,300000,350000,400000,450000,500000], "format": "d", "grid": false, "ticks": true, "labelPadding": 3, "domain": false}}
}
},
{
"data": {"name": "notes"},
"mark": {"type": "text", "font": "Liberation Sans", "fontSize": 17.5, "fontWeight": "bold", "fill": "#E8221B", "stroke": "#B51414", "strokeWidth": 0.4},
"encoding": {
"x": {"field": "t", "type": "quantitative", "scale": {"domain": [1995.5, 2010.5], "nice": false, "zero": false}, "axis": {"title": null, "values": [1996,1997,1998,1999,2000,2001,2002,2003,2004,2005,2006,2007,2008,2009,2010], "format": "d", "ticks": false, "grid": false, "labelOverlap": false, "labelFlush": false, "labelPadding": 6}},
"y": {"field": "v", "type": "quantitative", "scale": {"domain": [0, 500000], "nice": false}, "axis": {"title": null, "orient": "right", "values": [0,50000,100000,150000,200000,250000,300000,350000,400000,450000,500000], "format": "d", "grid": false, "ticks": true, "labelPadding": 3, "domain": false}},
"text": {"field": "n"}
}
}
]
}
],
"resolve": {"scale": {"y": "independent"}, "axis": {"y": "independent"}}
}
